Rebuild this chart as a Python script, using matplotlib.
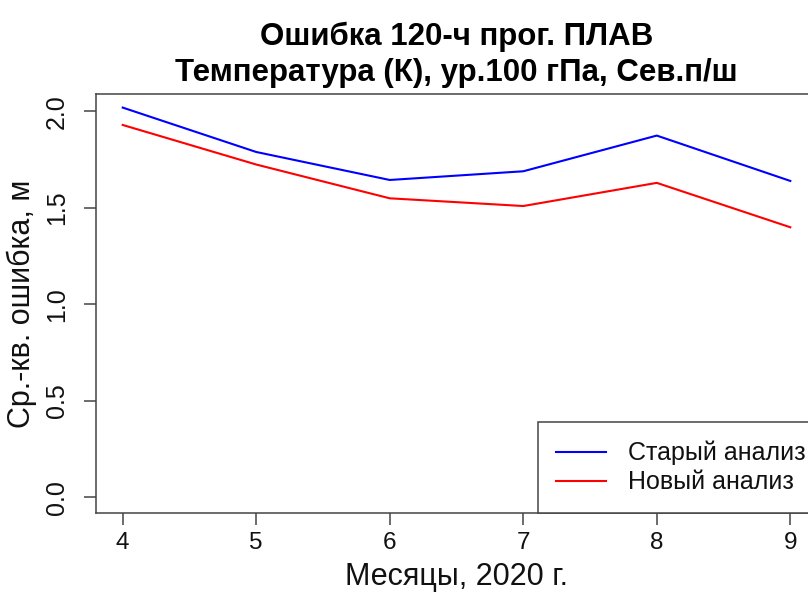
"""
RMS error of the 120-h forecast, old vs new analysis
"""

import matplotlib
matplotlib.use('Agg')
import matplotlib.pyplot as plt

plt.rcParams['font.family'] = ['Liberation Sans', 'DejaVu Sans']

# Data
months = [4, 5, 6, 7, 8, 9]
old_analysis = [2.02, 1.79, 1.645, 1.69, 1.875, 1.64]
new_analysis = [1.93, 1.725, 1.55, 1.51, 1.63, 1.40]
yticks = [0.0, 0.5, 1.0, 1.5, 2.0]
title = 'Ошибка 120-ч прог. ПЛАВ\nТемпература (К), ур.100 гПа, Сев.п/ш'
xlabel = 'Месяцы, 2020 г.'
ylabel = 'Ср.-кв. ошибка, м'
labels = ['Старый анализ', 'Новый анализ']

axis_col = '#444444'
text_col = '#111111'

fig = plt.figure(figsize=(8.08, 5.95), dpi=100)
# Plot region runs past the right edge of the picture, as in the reference
ax = fig.add_axes([96 / 808, 82 / 595, (817 - 96) / 808, (513 - 94) / 595])

ax.plot(months, old_analysis, color='#0000FF', lw=1.5, label=labels[0])
ax.plot(months, new_analysis, color='#FF0000', lw=1.5, label=labels[1])

ax.set_xlim(3.8, 9.2)
ax.set_ylim(-0.0804, 2.0904)
ax.set_xticks(months)
ax.set_yticks(yticks)
ax.set_yticklabels([f'{v:.1f}' for v in yticks], rotation=90, va='center')

for s in ax.spines.values():
    s.set_color(axis_col)
    s.set_linewidth(1.1)
ax.tick_params(axis='both', length=8.5, width=1.1, color=axis_col,
               labelcolor=text_col)
ax.tick_params(axis='x', pad=5, labelsize=17.5)
ax.tick_params(axis='y', pad=11, labelsize=18)

ax.set_title(title, fontsize=22.5, fontweight='bold', linespacing=1.27, pad=9)
ax.set_xlabel(xlabel, fontsize=22, labelpad=6, color=text_col)
ax.set_ylabel(ylabel, fontsize=22, labelpad=6, color=text_col)

# Legend sits in the bottom right corner, a bit past the visible edge
leg = ax.legend(loc='lower right', bbox_to_anchor=(1.0097, 0.0), borderaxespad=0,
                fontsize=18, fancybox=False, framealpha=1, edgecolor=axis_col,
                handlelength=2.0, handletextpad=0.85, borderpad=0.75,
                labelspacing=0.2)
leg.get_frame().set_linewidth(1.1)
for t in leg.get_texts():
    t.set_color(text_col)

plt.savefig('out.png', dpi=100)
